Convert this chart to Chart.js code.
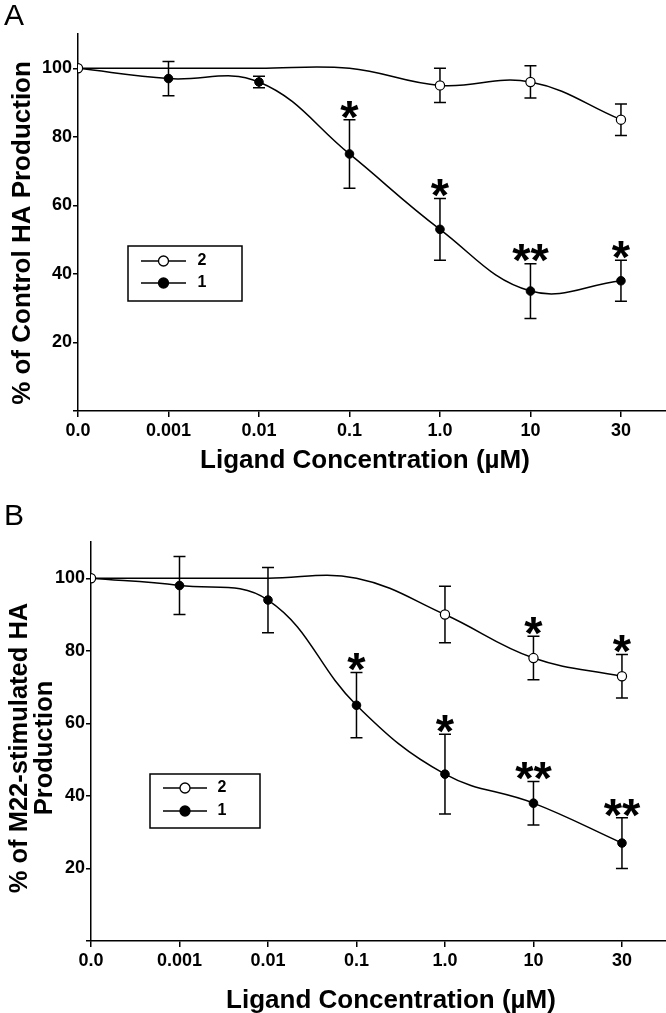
<!DOCTYPE html>
<html>
<head>
<meta charset="utf-8">
<script src="https://cdn.jsdelivr.net/npm/chart.js@4.4.1/dist/chart.umd.min.js"></script>
<style>
  body { margin: 0; background: #fff; overflow: hidden; width: 666px; height: 1013px; }
  .panel { position: absolute; left: 0; }
  #panelA { top: 0; }
  #panelB { top: 500px; }
</style>
</head>
<body>
<div class="panel" id="panelA"><canvas id="chartA" width="672" height="500"></canvas></div>
<div class="panel" id="panelB"><canvas id="chartB" width="672" height="513"></canvas></div>
<script>
// x categories (equally spaced on the plot)
const concLabels = ['0.0', '0.001', '0.01', '0.1', '1.0', '10', '30'];
const yTickValues = [0, 20, 40, 60, 80, 100];

// Panel A - % of control HA production
const a2Mean = [100, 100, 100, 100, 95, 96, 85];
const a2Err  = [null, null, null, null, 5, 4.7, 4.6];
const a2Sig  = ['', '', '', '', '', '', ''];
const a2Marks = [1, 0, 0, 0, 1, 1, 1];
const a1Mean = [100, 97, 96, 75, 53, 35, 38];
const a1Err  = [null, 5, 1.7, 10, 9, 8, 6];
const a1Sig  = ['', '', '', '*', '*', '**', '*'];

// Panel B - % of M22-stimulated HA production
const b2Mean = [100, 100, 100, 100, 90, 78, 73];
const b2Err  = [null, null, null, null, 7.8, 6, 6];
const b2Sig  = ['', '', '', '', '', '*', '*'];
const b2Marks = [1, 0, 0, 0, 1, 1, 1];
const b1Mean = [100, 98, 94, 65, 46, 38, 27];
const b1Err  = [null, 8, 9, 9, 11, 6, 7];
const b1Sig  = ['', '', '', '*', '*', '**', '**'];

const FONT = "'Liberation Sans', Arial, Helvetica, sans-serif";

function points(vals) {
  return vals.map((v, i) => ({ x: i, y: v }));
}

// error bars, significance stars, legend, titles
const decor = {
  id: 'decor',
  beforeDatasetsDraw(chart) {
    const ctx = chart.ctx;
    const xs = chart.scales.x, ys = chart.scales.y;
    ctx.save();
    ctx.strokeStyle = '#000';
    ctx.lineWidth = 1.5;
    chart.data.datasets.forEach(ds => {
      ds.data.forEach((p, i) => {
        const e = ds.errors[i];
        if (e == null) return;
        const px = xs.getPixelForValue(p.x);
        const top = ys.getPixelForValue(p.y + e);
        const bot = ys.getPixelForValue(p.y - e);
        ctx.beginPath();
        ctx.moveTo(px, top); ctx.lineTo(px, bot);
        ctx.moveTo(px - 6, top); ctx.lineTo(px + 6, top);
        ctx.moveTo(px - 6, bot); ctx.lineTo(px + 6, bot);
        ctx.stroke();
      });
    });
    ctx.restore();
  },
  afterDraw(chart, args, opts) {
    const ctx = chart.ctx;
    const xs = chart.scales.x, ys = chart.scales.y;
    ctx.save();
    ctx.fillStyle = '#000';

    // stars
    const starSize = 47;
    ctx.font = 'bold ' + starSize + 'px ' + FONT;
    ctx.textAlign = 'center';
    ctx.textBaseline = 'alphabetic';
    chart.data.datasets.forEach(ds => {
      ds.data.forEach((p, i) => {
        const s = ds.sig[i];
        if (!s) return;
        const px = xs.getPixelForValue(p.x);
        const top = ys.getPixelForValue(p.y + (ds.errors[i] || 0));
        ctx.fillText(s, px, top - 13 + 0.55 * starSize);
      });
    });

    // panel letter
    ctx.font = '30px ' + FONT;
    ctx.textAlign = 'left';
    ctx.fillText(opts.letter, 4, 25);

    // x title
    ctx.font = 'bold 26px ' + FONT;
    ctx.textAlign = 'center';
    ctx.fillText('Ligand Concentration (\u00b5M)', opts.xTitle[0], opts.xTitle[1]);

    // y title (rotated)
    ctx.font = 'bold ' + opts.yFont + 'px ' + FONT;
    opts.yTitle.forEach(t => {
      ctx.save();
      ctx.translate(t.x, t.y);
      ctx.rotate(-Math.PI / 2);
      ctx.fillText(t.text, 0, 0);
      ctx.restore();
    });

    // legend box
    const L = opts.legend;
    ctx.strokeStyle = '#000';
    ctx.lineWidth = 1.5;
    ctx.strokeRect(L.x, L.y, L.w, L.h);
    [0, 1].forEach((di, k) => {
      const ds = chart.data.datasets[di];
      const ry = L.rows[k];
      ctx.beginPath();
      ctx.moveTo(L.lineX0, ry); ctx.lineTo(L.lineX1, ry);
      ctx.stroke();
      ctx.beginPath();
      ctx.arc((L.lineX0 + L.lineX1) / 2, ry, 5, 0, Math.PI * 2);
      ctx.fillStyle = ds.pointBackgroundColor;
      ctx.fill();
      ctx.lineWidth = 1.3;
      ctx.stroke();
      ctx.lineWidth = 1.5;
      ctx.fillStyle = '#000';
      ctx.font = 'bold 16px ' + FONT;
      ctx.textBaseline = 'middle';
      ctx.fillText(ds.label, L.textX, ry);
      ctx.textBaseline = 'alphabetic';
    });
    ctx.restore();
  }
};

function makeChart(id, s2, s1, layout) {
  const ctx = document.getElementById(id).getContext('2d');
  return new Chart(ctx, {
    type: 'line',
    data: {
      datasets: [{
        label: '2',
        data: points(s2.mean),
        errors: s2.err,
        sig: s2.sig,
        borderColor: '#000',
        borderWidth: 1.5,
        tension: 0.4,
        pointRadius: s2.marks.map(m => m ? 4.6 : 0),
        pointBackgroundColor: '#fff',
        pointBorderColor: '#000',
        pointBorderWidth: 1.2
      }, {
        label: '1',
        data: points(s1.mean),
        errors: s1.err,
        sig: s1.sig,
        borderColor: '#000',
        borderWidth: 1.5,
        tension: 0.4,
        pointRadius: 4.3,
        pointBackgroundColor: '#000',
        pointBorderColor: '#000',
        pointBorderWidth: 1
      }]
    },
    options: {
      responsive: false,
      animation: false,
      layout: { padding: { top: layout.top, right: 0, left: 0, bottom: 0 } },
      plugins: {
        legend: { display: false },
        tooltip: { enabled: false },
        decor: layout.decor
      },
      scales: {
        x: {
          type: 'linear',
          min: 0,
          max: 6.5,
          afterBuildTicks: s => { s.ticks = concLabels.map((_, i) => ({ value: i })); },
          afterFit: s => { s.height = layout.xHeight; },
          ticks: {
            callback: v => concLabels[v],
            color: '#000',
            font: { family: FONT, size: 18, weight: 'bold' },
            maxRotation: 0,
            autoSkip: false,
            padding: 3
          },
          grid: { display: true, drawOnChartArea: false, drawTicks: true, tickLength: 6, color: '#000', lineWidth: 1.5 },
          border: { display: true, color: '#000', width: 1.5 }
        },
        y: {
          min: 0,
          max: 110,
          afterBuildTicks: s => { s.ticks = yTickValues.map(v => ({ value: v })); },
          afterFit: s => { s.width = layout.yWidth; },
          ticks: {
            callback: v => (v === 0 ? '' : v),
            color: '#000',
            font: { family: FONT, size: 18, weight: 'bold' },
            padding: 1
          },
          grid: { display: true, drawOnChartArea: false, drawTicks: true, tickLength: 5, color: '#000', lineWidth: 1.5 },
          border: { display: true, color: '#000', width: 1.5 }
        }
      }
    },
    plugins: [decor]
  });
}

makeChart('chartA',
  { mean: a2Mean, err: a2Err, sig: a2Sig, marks: a2Marks },
  { mean: a1Mean, err: a1Err, sig: a1Sig },
  {
    top: 34, xHeight: 89, yWidth: 78,
    decor: {
      letter: 'A',
      xTitle: [365, 468],
      yFont: 26,
      yTitle: [{ text: '% of Control HA Production', x: 30, y: 233 }],
      legend: { x: 128, y: 246, w: 114, h: 55, rows: [261, 283], lineX0: 141, lineX1: 186, textX: 202 }
    }
  });

makeChart('chartB',
  { mean: b2Mean, err: b2Err, sig: b2Sig, marks: b2Marks },
  { mean: b1Mean, err: b1Err, sig: b1Sig },
  {
    top: 42, xHeight: 72, yWidth: 91,
    decor: {
      letter: 'B',
      xTitle: [391, 508],
      yFont: 25.5,
      yTitle: [
        { text: '% of M22-stimulated HA', x: 27, y: 248 },
        { text: 'Production', x: 52, y: 248 }
      ],
      legend: { x: 150, y: 274, w: 110, h: 54, rows: [288, 311], lineX0: 163, lineX1: 207, textX: 222 }
    }
  });
</script>
</body>
</html>
